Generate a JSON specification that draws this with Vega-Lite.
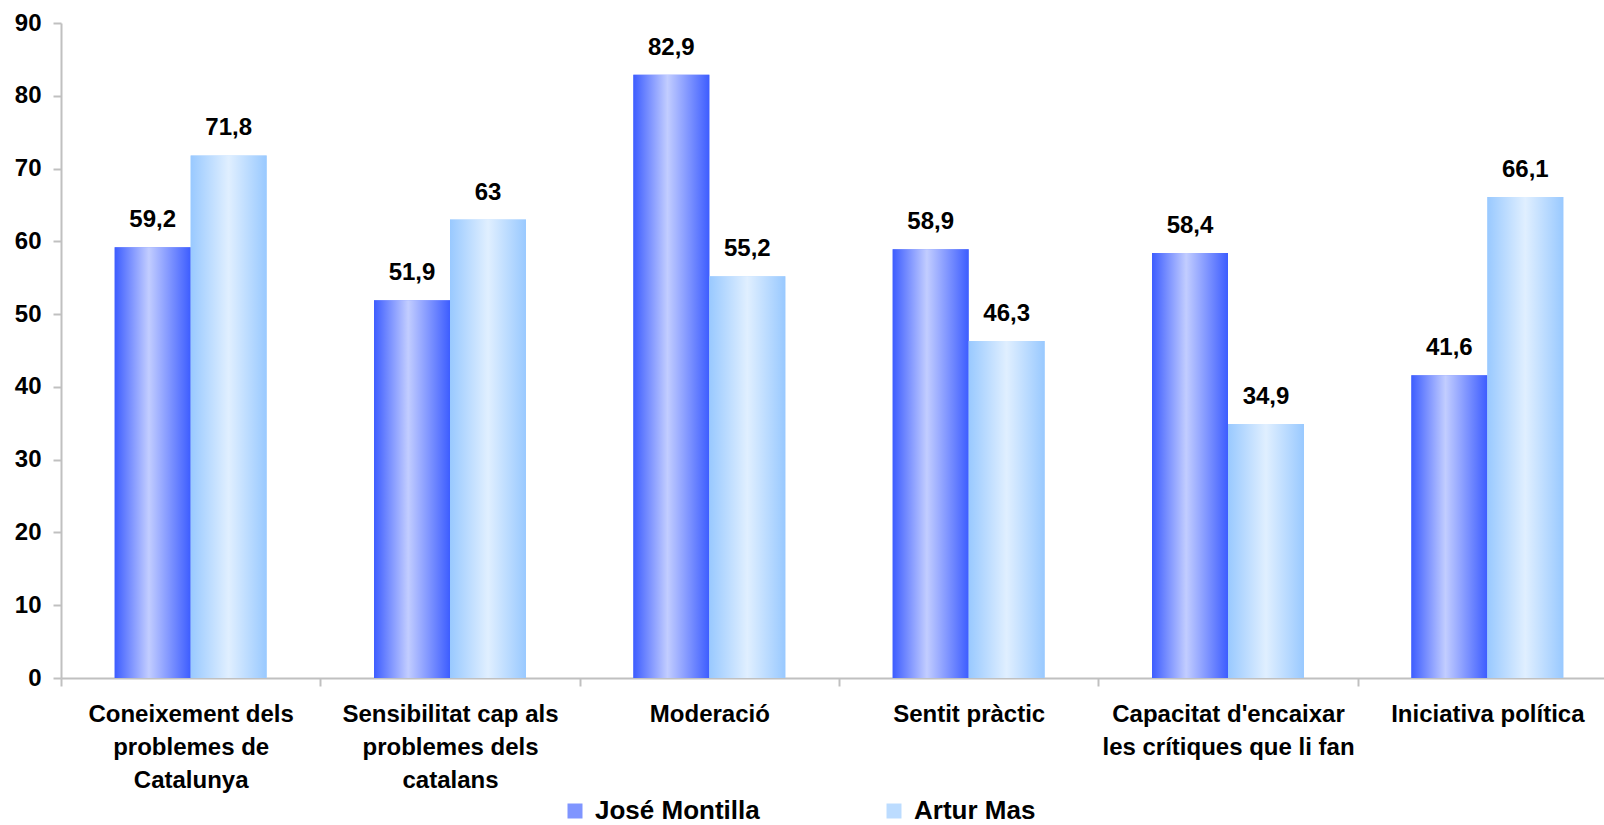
{
  "$schema": "https://vega.github.io/schema/vega-lite/v6.json",
  "width": 1543,
  "height": 655,
  "autosize": {"type": "none"},
  "padding": {"left": 61, "top": 23, "right": 0, "bottom": 147},
  "background": "white",
  "config": {"view": {"stroke": null}, "font": "Liberation Sans"},
  "data": {
    "values": [
      {"atribut": "Coneixement dels problemes de Catalunya", "candidat": "José Montilla", "valor": 59.2},
      {"atribut": "Coneixement dels problemes de Catalunya", "candidat": "Artur Mas", "valor": 71.8},
      {"atribut": "Sensibilitat cap als problemes dels catalans", "candidat": "José Montilla", "valor": 51.9},
      {"atribut": "Sensibilitat cap als problemes dels catalans", "candidat": "Artur Mas", "valor": 63},
      {"atribut": "Moderació", "candidat": "José Montilla", "valor": 82.9},
      {"atribut": "Moderació", "candidat": "Artur Mas", "valor": 55.2},
      {"atribut": "Sentit pràctic", "candidat": "José Montilla", "valor": 58.9},
      {"atribut": "Sentit pràctic", "candidat": "Artur Mas", "valor": 46.3},
      {"atribut": "Capacitat d'encaixar les crítiques que li fan", "candidat": "José Montilla", "valor": 58.4},
      {"atribut": "Capacitat d'encaixar les crítiques que li fan", "candidat": "Artur Mas", "valor": 34.9},
      {"atribut": "Iniciativa política", "candidat": "José Montilla", "valor": 41.6},
      {"atribut": "Iniciativa política", "candidat": "Artur Mas", "valor": 66.1}
    ]
  },
  "encoding": {
    "x": {
      "field": "atribut",
      "type": "nominal",
      "sort": null,
      "scale": {"range": [0, 1556], "paddingInner": 0.414, "paddingOuter": 0.207},
      "axis": {
        "title": null,
        "labelAngle": 0,
        "labelFont": "Liberation Sans",
        "labelFontSize": 24,
        "labelFontWeight": "bold",
        "labelColor": "black",
        "labelBaseline": "top",
        "labelPadding": 16,
        "labelLineHeight": 33,
        "labelLimit": 400,
        "labelOverlap": false,
        "labelBound": false,
        "tickSize": 8,
        "tickColor": "#c0c0c0",
        "tickWidth": 2,
        "domainColor": "#c0c0c0",
        "domainWidth": 2,
        "bandPosition": 0.5,
        "tickOffset": -129.65,
        "labelOffset": 129.65,
        "labelExpr": "datum.label == 'Coneixement dels problemes de Catalunya' ? ['Coneixement dels', 'problemes de', 'Catalunya'] : datum.label == 'Sensibilitat cap als problemes dels catalans' ? ['Sensibilitat cap als', 'problemes dels', 'catalans'] : datum.label == \"Capacitat d'encaixar les crítiques que li fan\" ? [\"Capacitat d'encaixar\", 'les crítiques que li fan'] : datum.label"
      }
    },
    "xOffset": {
      "field": "candidat",
      "type": "nominal",
      "sort": ["José Montilla", "Artur Mas"],
      "scale": {"paddingInner": 0, "paddingOuter": 0}
    },
    "y": {
      "field": "valor",
      "type": "quantitative",
      "scale": {"domain": [0, 90], "nice": false},
      "axis": {
        "title": null,
        "values": [0, 10, 20, 30, 40, 50, 60, 70, 80, 90],
        "grid": false,
        "labelFont": "Liberation Sans",
        "labelFontSize": 24,
        "labelFontWeight": "bold",
        "labelColor": "black",
        "labelPadding": 12,
        "tickSize": 8,
        "tickColor": "#c0c0c0",
        "tickWidth": 2,
        "domainColor": "#c0c0c0",
        "domainWidth": 2
      }
    }
  },
  "layer": [
    {
      "mark": {"type": "bar"},
      "encoding": {
        "color": {
          "field": "candidat",
          "type": "nominal",
          "scale": {
            "domain": ["José Montilla", "Artur Mas"],
            "range": ["#7f95ff", "#bcdcff"]
          },
          "legend": {
            "title": null,
            "orient": "none",
            "legendX": 501,
            "legendY": 775,
            "direction": "horizontal",
            "symbolType": "square",
            "symbolSize": 225,
            "symbolStrokeWidth": 0,
            "labelFont": "Liberation Sans",
            "labelFontSize": 26,
            "labelFontWeight": "bold",
            "labelColor": "black",
            "labelOffset": 7,
            "labelLimit": 400,
            "columnPadding": 121,
            "padding": 0,
            "symbolOpacity": 1,
            "encode": {
              "symbols": {
                "update": {
                  "fill": {
                    "condition": {
                      "test": "datum.value === 'José Montilla'",
                      "value": {"gradient": "linear", "x1": 0, "y1": 0, "x2": 1, "y2": 0, "stops": [{"offset": 0, "color": "#3d5dff"}, {"offset": 0.45, "color": "#c2cdff"}, {"offset": 1, "color": "#3d5dff"}]}
                    },
                    "value": {"gradient": "linear", "x1": 0, "y1": 0, "x2": 1, "y2": 0, "stops": [{"offset": 0, "color": "#99c9ff"}, {"offset": 0.5, "color": "#e0efff"}, {"offset": 1, "color": "#99c9ff"}]}
                  }
                }
              }
            }
          }
        }
      }
    },
    {
      "mark": {"type": "bar", "opacity": 1},
      "encoding": {
        "color": {
          "condition": {
            "test": "datum.candidat === 'José Montilla'",
            "value": {"gradient": "linear", "x1": 0, "y1": 0, "x2": 1, "y2": 0, "stops": [{"offset": 0, "color": "#3d5dff"}, {"offset": 0.45, "color": "#c2cdff"}, {"offset": 1, "color": "#3d5dff"}]}
          },
          "value": {"gradient": "linear", "x1": 0, "y1": 0, "x2": 1, "y2": 0, "stops": [{"offset": 0, "color": "#99c9ff"}, {"offset": 0.5, "color": "#e0efff"}, {"offset": 1, "color": "#99c9ff"}]}
        }
      }
    },
    {
      "mark": {
        "type": "text",
        "dy": -20,
        "baseline": "alphabetic",
        "font": "Liberation Sans",
        "fontSize": 24,
        "fontWeight": "bold",
        "color": "black",
        "text": {"expr": "replace(format(datum.valor, '~g'), '.', ',')"}
      }
    }
  ]
}
